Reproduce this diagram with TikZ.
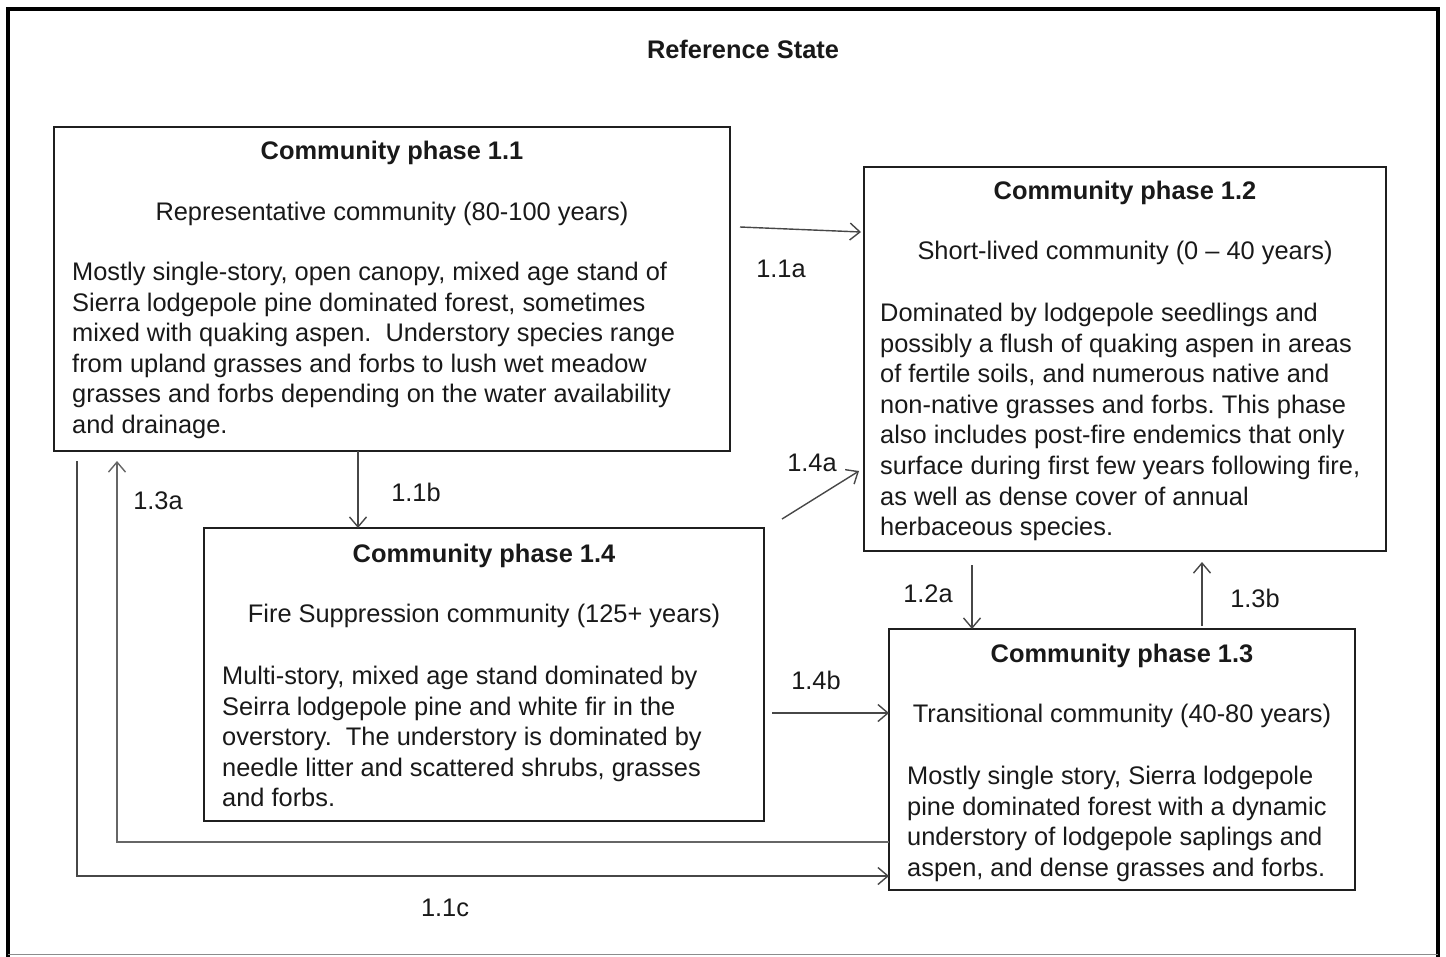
\documentclass[tikz,border=0pt]{standalone}
\usepackage{fontspec}
\setmainfont{Liberation Sans}
\usetikzlibrary{arrows.meta}
\frenchspacing
\begin{document}
\begin{tikzpicture}[x=1pt,y=-1pt,
  txt/.style={font=\fontsize{25.4}{30.6}\selectfont, inner sep=0pt, text=black!90},
  ttl/.style={txt, font=\fontsize{25.4}{30.6}\selectfont\bfseries, anchor=base},
  sub/.style={txt, anchor=base},
  body/.style={txt, align=left, anchor=north west},
  lbl/.style={txt, anchor=base},
  box/.style={draw=black!88, line width=2pt, inner sep=0pt, outer sep=0pt},
  arr/.style={draw=black!72, line width=1.4pt, -{Straight Barb[length=10pt,width=17pt,line width=1.4pt]}},
  arrg/.style={arr, draw=black!60}]
\useasboundingbox (0,0) rectangle (1446,956);
% outer frame
\draw[line width=3.5pt, black] (8,958) -- (8,9) -- (1438,9) -- (1438,958);
\draw[line width=1pt, black!45] (8,954.5) -- (1438,954.5);
\node[ttl] (title) at (743,58) {Reference State};

% boxes
\node[box, minimum width=676pt, minimum height=324pt] (b11) at (392,289) {};
\node[box, minimum width=522pt, minimum height=384pt] (b12) at (1125,359) {};
\node[box, minimum width=560pt, minimum height=293pt] (b14) at (484,674.5) {};
\node[box, minimum width=466pt, minimum height=261pt] (b13) at (1122,759.5) {};

% box 1.1
\node[ttl] (t11) at (392,159) {Community phase 1.1};
\node[sub] (s11) at (392,220) {Representative community (80-100 years)};
\node[body] (d11) at (72,261.8) {Mostly single-story, open canopy, mixed age stand of\\
Sierra lodgepole pine dominated forest, sometimes\\
mixed with quaking aspen.\ \ Understory species range\\
from upland grasses and forbs to lush wet meadow\\
grasses and forbs depending on the water availability\\
and drainage.};

% box 1.2
\node[ttl] (t12) at (1125,199) {Community phase 1.2};
\node[sub] (s12) at (1125,259) {Short-lived community (0 – 40 years)};
\node[body] (d12) at (880,302.8) {Dominated by lodgepole seedlings and\\
possibly a flush of quaking aspen in areas\\
of fertile soils, and numerous native and\\
non-native grasses and forbs. This phase\\
also includes post-fire endemics that only\\
surface during first few years following fire,\\
as well as dense cover of annual\\
herbaceous species.};

% box 1.4
\node[ttl] (t14) at (484,562) {Community phase 1.4};
\node[sub] (s14) at (484,622) {Fire Suppression community (125+ years)};
\node[body] (d14) at (222,665.8) {Multi-story, mixed age stand dominated by\\
Seirra lodgepole pine and white fir in the\\
overstory.\ \ The understory is dominated by\\
needle litter and scattered shrubs, grasses\\
and forbs.};

% box 1.3
\node[ttl] (t13) at (1122,662) {Community phase 1.3};
\node[sub] (s13) at (1122,722) {Transitional community (40-80 years)};
\node[body] (d13) at (907,765.8) {Mostly single story, Sierra lodgepole\\
pine dominated forest with a dynamic\\
understory of lodgepole saplings and\\
aspen, and dense grasses and forbs.};

% connector coordinates
\coordinate (s11a) at (740,227);
\coordinate (e11a) at (861,232);
\coordinate (x11b) at (358,0);
\coordinate (s14a) at (782,519);
\coordinate (e14a) at (859,471);
\coordinate (s14b) at (772,713);
\coordinate (s12a) at (972,565);
\coordinate (s13b) at (1202,626);
\coordinate (e13b) at (1202,562);
\coordinate (k13a) at (117,842);
\coordinate (e13a) at (117,461);
\coordinate (s11c) at (77,461);
\coordinate (k11c) at (77,876);

% connectors
\draw[arr] (s11a) -- (e11a);
\draw[arr] (b11.south -| x11b) -- (b14.north -| x11b);
\draw[arr] (s14a) -- (e14a);
\draw[arr] (s14b) -- (s14b -| b13.west);
\draw[arr] (s12a) -- (s12a |- b13.north);
\draw[arr] (s13b) -- (e13b);
\draw[arrg] (k13a -| b13.west) -- (k13a) -- (e13a);
\draw[arr] (s11c) -- (k11c) -- (k11c -| b13.west);

% labels
\node[lbl] (l11a) at (781,277) {1.1a};
\node[lbl] (l11b) at (416,501) {1.1b};
\node[lbl] (l13a) at (158,509) {1.3a};
\node[lbl] (l14a) at (812,471) {1.4a};
\node[lbl] (l14b) at (816,689) {1.4b};
\node[lbl] (l12a) at (928,602) {1.2a};
\node[lbl] (l13b) at (1255,607) {1.3b};
\node[lbl] (l11c) at (445,916) {1.1c};
\end{tikzpicture}
\end{document}
